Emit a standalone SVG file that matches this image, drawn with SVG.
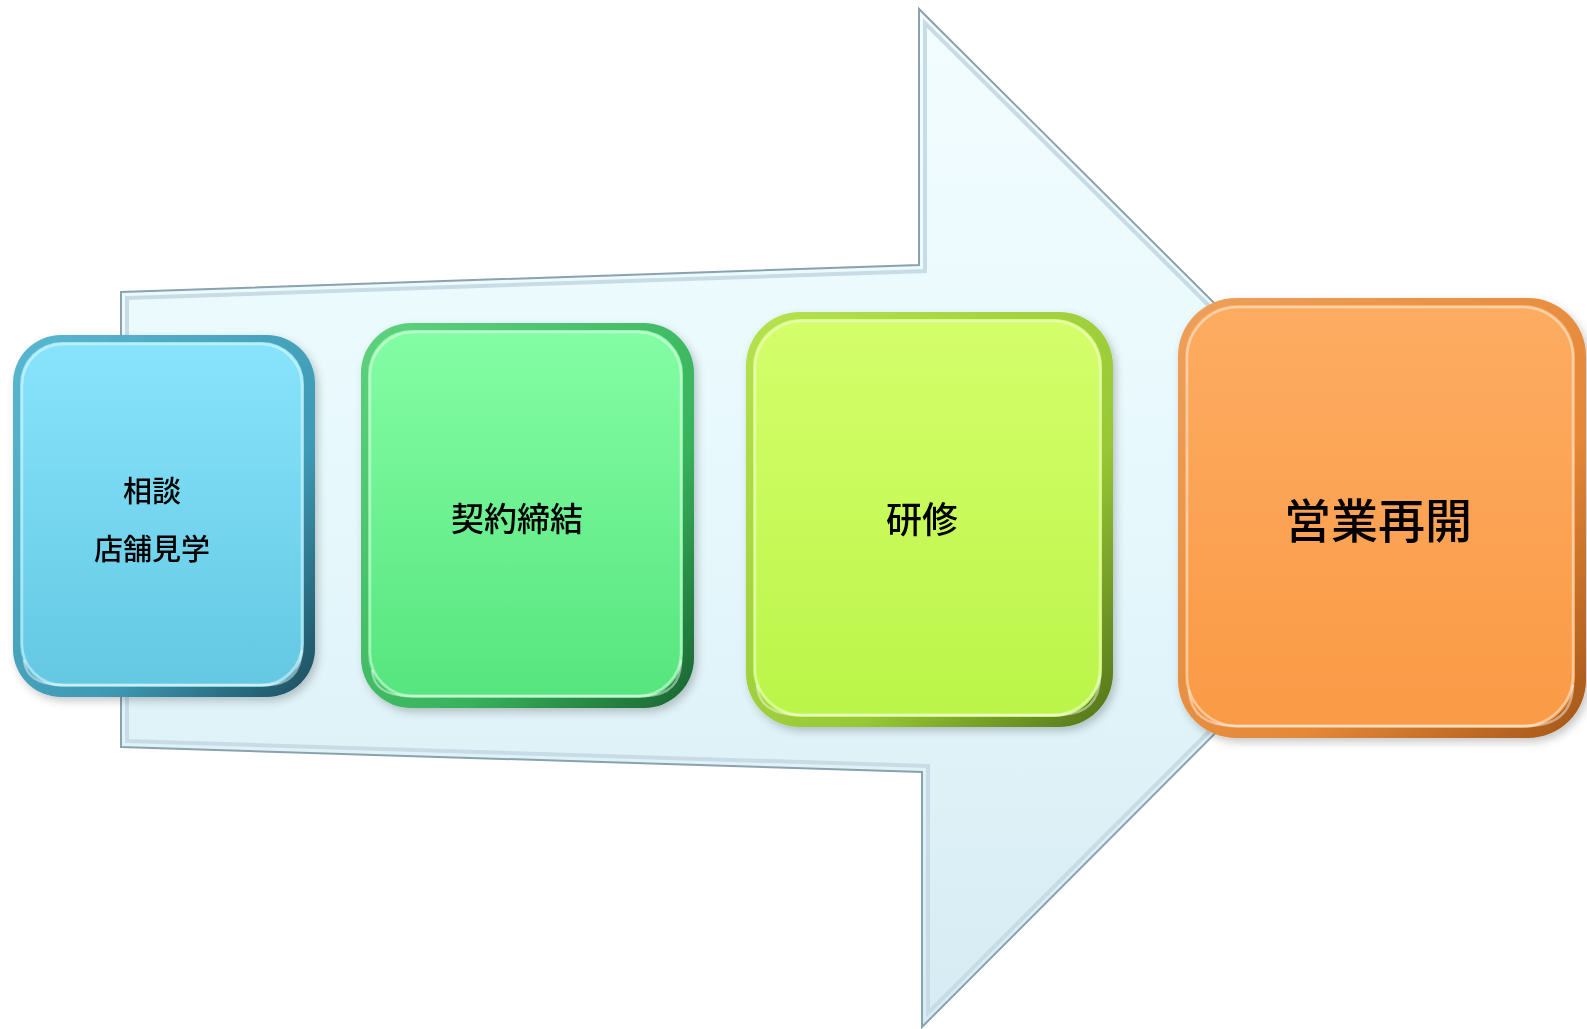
<svg xmlns="http://www.w3.org/2000/svg" width="1587" height="1029" viewBox="0 0 1587 1029">
<style>
  .lbl { font-family: "Noto Sans CJK JP", "Noto Sans CJK SC", sans-serif; font-weight: 500; fill: #000; text-anchor: middle; dominant-baseline: central; }
  .hl { fill: none; stroke: #ffffff; stroke-width: 2.5; stroke-opacity: 0.45; }
</style>
<defs>
  <linearGradient id="arrowFill" x1="0" y1="0" x2="0" y2="1">
    <stop offset="0" stop-color="#f3fdff"/>
    <stop offset="0.5" stop-color="#e6f8fc"/>
    <stop offset="1" stop-color="#d6ebf3"/>
  </linearGradient>
  <filter id="shadow" x="-10%" y="-10%" width="120%" height="120%">
    <feDropShadow dx="3" dy="4" stdDeviation="4" flood-color="#000" flood-opacity="0.22"/>
  </filter>
  <linearGradient id="b1edge" x1="0" y1="0" x2="1" y2="1">
    <stop offset="0" stop-color="#5bb7cf"/><stop offset="0.65" stop-color="#3e9ab4"/><stop offset="1" stop-color="#1c4d5e"/>
  </linearGradient>
  <linearGradient id="b1face" x1="0" y1="0" x2="0" y2="1">
    <stop offset="0" stop-color="#88e4fc"/><stop offset="1" stop-color="#64c8e2"/>
  </linearGradient>
  <linearGradient id="b2edge" x1="0" y1="0" x2="1" y2="1">
    <stop offset="0" stop-color="#5fd27f"/><stop offset="0.65" stop-color="#38b35c"/><stop offset="1" stop-color="#1a6330"/>
  </linearGradient>
  <linearGradient id="b2face" x1="0" y1="0" x2="0" y2="1">
    <stop offset="0" stop-color="#84fda4"/><stop offset="1" stop-color="#56e57e"/>
  </linearGradient>
  <linearGradient id="b3edge" x1="0" y1="0" x2="1" y2="1">
    <stop offset="0" stop-color="#b6e250"/><stop offset="0.65" stop-color="#98c935"/><stop offset="1" stop-color="#52721a"/>
  </linearGradient>
  <linearGradient id="b3face" x1="0" y1="0" x2="0" y2="1">
    <stop offset="0" stop-color="#d4fe6a"/><stop offset="1" stop-color="#bbf549"/>
  </linearGradient>
  <linearGradient id="b4edge" x1="0" y1="0" x2="1" y2="1">
    <stop offset="0" stop-color="#eea05a"/><stop offset="0.65" stop-color="#e58838"/><stop offset="1" stop-color="#a35618"/>
  </linearGradient>
  <linearGradient id="b4face" x1="0" y1="0" x2="0" y2="1">
    <stop offset="0" stop-color="#fdac62"/><stop offset="1" stop-color="#fa9a45"/>
  </linearGradient>
</defs>
<rect x="0" y="0" width="1587" height="1029" fill="#ffffff"/>

<g id="connectors">
  <polygon id="big-arrow" points="121,292 919,265 919,9 1430,518 922,1027 922,772 121,747" fill="url(#arrowFill)" stroke="#8aa2ae" stroke-width="2"/>
  <polygon points="127,298 925,271 925,23 1422,518 928,1013 928,766 127,741" fill="none" stroke="#c8dce6" stroke-width="4" stroke-linejoin="miter"/>
</g>

<g id="node-1" filter="url(#shadow)">
  <rect x="13" y="335" width="302" height="362" rx="48" fill="url(#b1edge)"/>
  <rect x="20" y="342" width="284" height="345" rx="42" fill="url(#b1face)"/>
  <path d="M 24 660 Q 26 684 60 685 L 268 685 Q 300 684 302 650" class="hl" stroke-opacity="0.8"/>
  <rect x="22" y="344" width="280" height="341" rx="41" class="hl"/>
  <text class="lbl" x="152" y="489" font-size="29">相談</text>
  <text class="lbl" x="152" y="547" font-size="29">店舗見学</text>
</g>

<g id="node-2" filter="url(#shadow)">
  <rect x="361" y="323" width="333" height="385" rx="50" fill="url(#b2edge)"/>
  <rect x="368" y="330" width="315" height="368" rx="44" fill="url(#b2face)"/>
  <path d="M 372 670 Q 374 696 410 696 L 645 696 Q 681 695 681 660" class="hl" stroke-opacity="0.8"/>
  <rect x="370" y="332" width="311" height="364" rx="43" class="hl"/>
  <text class="lbl" x="517" y="517" font-size="33">契約締結</text>
</g>

<g id="node-3" filter="url(#shadow)">
  <rect x="746" y="312" width="367" height="415" rx="54" fill="url(#b3edge)"/>
  <rect x="753" y="319" width="349" height="398" rx="48" fill="url(#b3face)"/>
  <path d="M 757 685 Q 759 715 800 715 L 1060 715 Q 1100 714 1100 675" class="hl" stroke-opacity="0.8"/>
  <rect x="755" y="321" width="345" height="394" rx="47" class="hl"/>
  <text class="lbl" x="922" y="517" font-size="36">研修</text>
</g>

<g id="node-4" filter="url(#shadow)">
  <rect x="1178" y="298" width="408" height="440" rx="58" fill="url(#b4edge)"/>
  <rect x="1185" y="305" width="390" height="423" rx="52" fill="url(#b4face)"/>
  <path d="M 1189 690 Q 1191 726 1236 726 L 1528 726 Q 1572 725 1573 685" class="hl" stroke-opacity="0.8"/>
  <rect x="1187" y="307" width="386" height="419" rx="51" class="hl"/>
  <text class="lbl" x="1378" y="517" font-size="47">営業再開</text>
</g>
</svg>
